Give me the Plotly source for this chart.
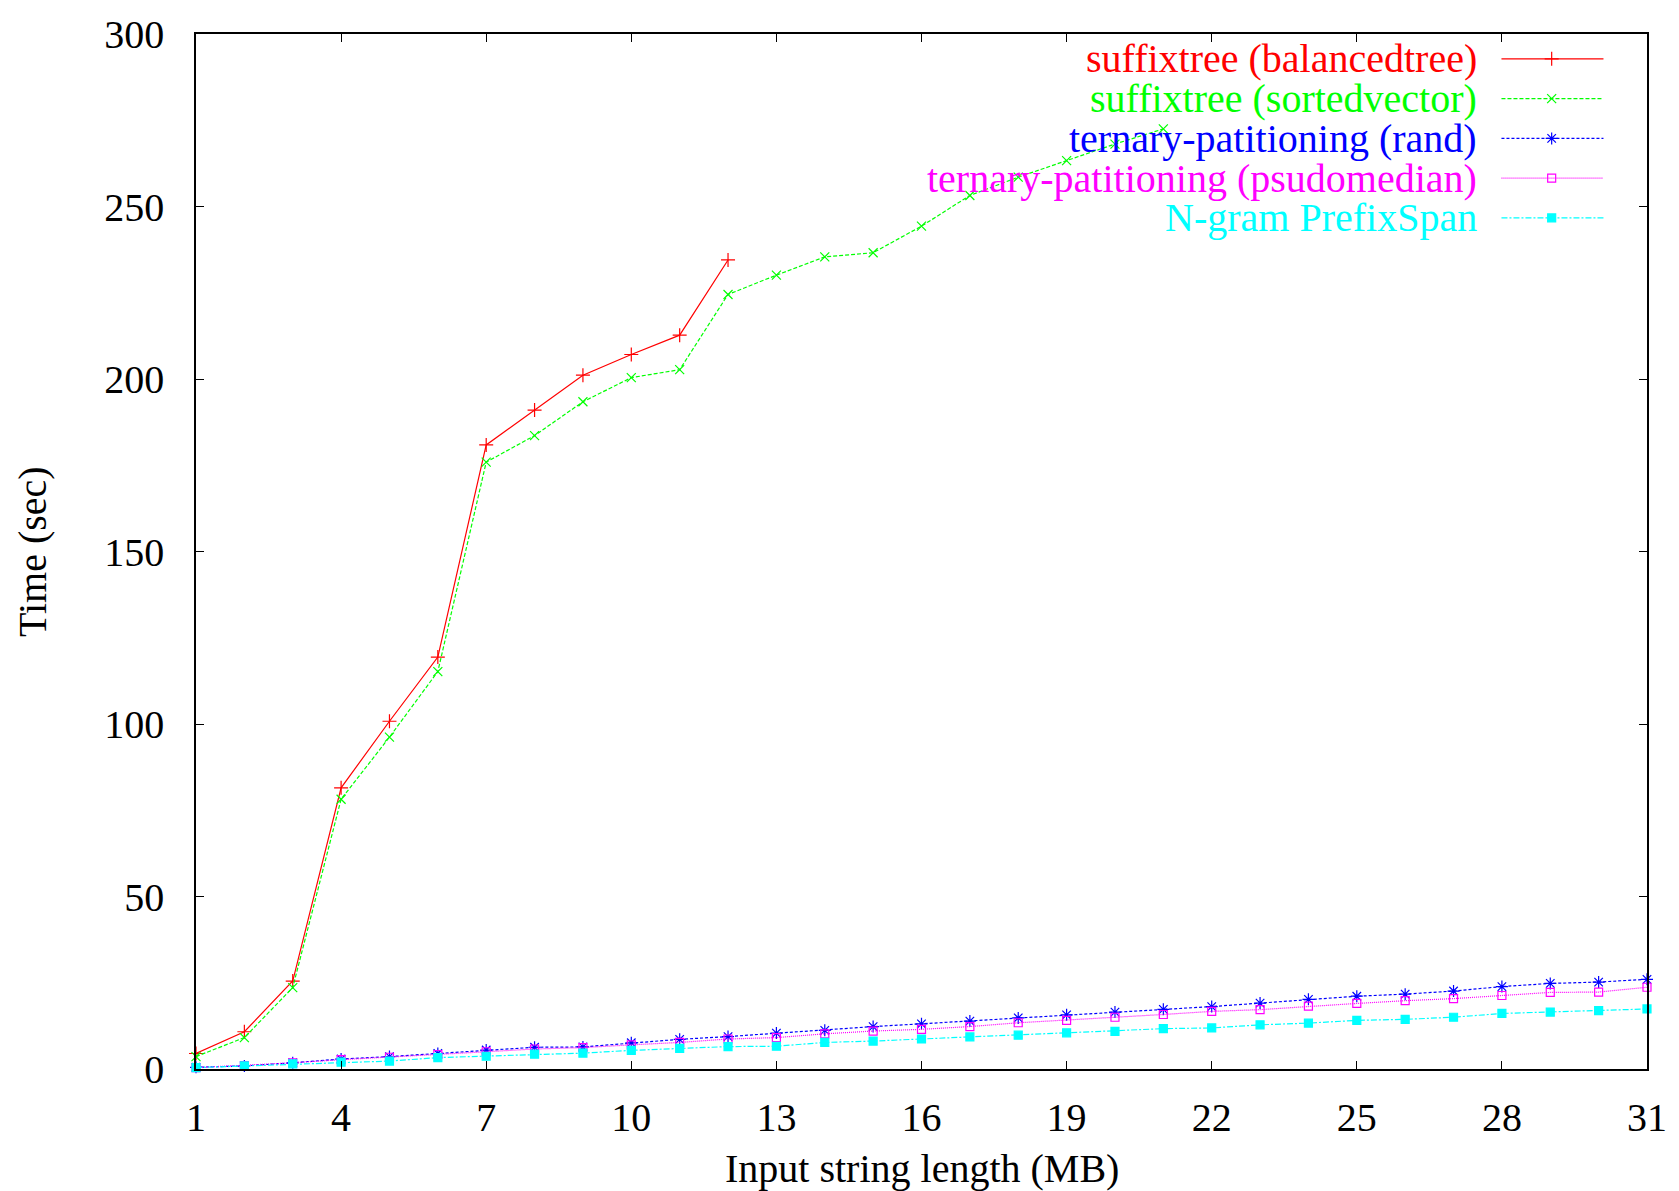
import plotly.graph_objects as go

x_mb = list(range(1, 32))
names = ["suffixtree (balancedtree)", "suffixtree (sortedvector)",
         "ternary-patitioning (rand)", "ternary-patitioning (psudomedian)",
         "N-gram PrefixSpan"]
balancedtree = [4.5, 10.8, 25.5, 81.5, 100.8, 119.4, 180.9, 191.0, 201.1, 207.1, 212.7, 234.5]
sortedvector = [3.6, 9.1, 23.6, 78.2, 96.2, 115.2, 175.9, 183.6, 193.4, 200.4, 202.7, 224.5,
                230.1, 235.4, 236.6, 244.3, 253.2, 258.5, 263.3, 268.1, 272.5]
tp_rand = [0.5, 0.9, 1.8, 2.9, 3.6, 4.5, 5.5, 6.3, 6.4, 7.6, 8.6, 9.4, 10.4, 11.2, 12.3, 13.1,
           13.9, 14.8, 15.7, 16.5, 17.3, 18.1, 19.1, 20.2, 21.1, 21.7, 22.6, 23.9, 24.8, 25.2, 26.0]
tp_psudomedian = [0.4, 1.0, 1.8, 2.7, 3.4, 4.2, 5.0, 5.8, 6.2, 7.0, 7.7, 8.7, 9.1, 10.2, 11.0, 11.5,
                  12.3, 13.4, 14.1, 15.0, 15.8, 16.7, 17.2, 18.2, 19.0, 19.8, 20.4, 21.3, 22.2, 22.3, 23.7]
ngram = [0.4, 0.9, 1.5, 2.0, 2.3, 3.3, 3.7, 4.3, 4.6, 5.4, 6.0, 6.5, 6.6, 7.7, 8.1, 8.7, 9.3, 9.8,
         10.5, 10.9, 11.7, 11.9, 12.8, 13.3, 14.1, 14.4, 15.0, 16.1, 16.5, 16.9, 17.4]
x_ticks = list(range(1, 32, 3))
y_ticks = list(range(0, 301, 50))

series = [balancedtree, sortedvector, tp_rand, tp_psudomedian, ngram]
colors = ["#ff0000", "#00ff00", "#0000ff", "#ff00ff", "#00ffff"]
dashes = ["solid", "4px,2px", "3px,2px", "1px,1px", "6px,2px,2px,2px"]
symbols = ["cross-thin", "x-thin", "asterisk", "square-open", "square"]
msizes = [10, 9, 10, 8, 8]

FONT = "Liberation Serif, Times New Roman, serif"
fig = go.Figure()

for ys, c, d, s, ms in zip(series, colors, dashes, symbols, msizes):
    fig.add_trace(go.Scatter(
        x=x_mb[:len(ys)], y=ys, mode="lines+markers",
        line=dict(color=c, width=1.2, dash=d),
        marker=dict(symbol=s, size=ms, color=c, line=dict(color=c, width=1.2)),
        cliponaxis=False, showlegend=False))

# manual gnuplot-style legend (text left, sample right)
leg_rows = [0.976, 0.9376, 0.8991, 0.8607, 0.8223]
lx0, lxm, lx1, ltext = 0.8997, 0.9343, 0.9700, 0.8840
for name, c, d, s, ms, ry in zip(names, colors, dashes, symbols, msizes, leg_rows):
    fig.add_annotation(x=ltext, y=ry, xref="paper", yref="paper", text=name,
                       showarrow=False, xanchor="right", yanchor="middle",
                       font=dict(family=FONT, size=40, color=c))
    fig.add_trace(go.Scatter(x=[lx0, lx1], y=[ry, ry], xaxis="x2", yaxis="y2",
                             mode="lines", line=dict(color=c, width=1.2, dash=d),
                             showlegend=False, hoverinfo="skip"))
    fig.add_trace(go.Scatter(x=[lxm], y=[ry], xaxis="x2", yaxis="y2", mode="markers",
                             marker=dict(symbol=s, size=ms, color=c, line=dict(color=c, width=1.2)),
                             showlegend=False, hoverinfo="skip", cliponaxis=False))

axis_common = dict(showline=True, linecolor="black", linewidth=1.5, mirror="ticks",
                   ticks="inside", ticklen=8, tickwidth=1.2, tickcolor="black",
                   showgrid=False, zeroline=False, ticklabeloverflow="allow",
                   tickfont=dict(family=FONT, size=40, color="black"))
fig.update_layout(
    width=1679, height=1191,
    margin=dict(l=196, r=27, t=28, b=122),
    paper_bgcolor="white", plot_bgcolor="white",
    xaxis=dict(range=[1, 31], tickvals=x_ticks, ticklabelstandoff=12, **axis_common),
    yaxis=dict(range=[0, 300], tickvals=y_ticks, ticklabelstandoff=22, **axis_common),
    xaxis2=dict(overlaying="x", range=[0, 1], visible=False),
    yaxis2=dict(overlaying="y", range=[0, 1], visible=False),
    showlegend=False,
)
fig.add_annotation(x=-0.1126, y=0.5, xref="paper", yref="paper", text="Time (sec)",
                   textangle=-90, showarrow=False, xanchor="center", yanchor="middle",
                   font=dict(family=FONT, size=40, color="black"))
fig.add_annotation(x=0.5, y=-0.0958, xref="paper", yref="paper", text="Input string length (MB)",
                   showarrow=False, xanchor="center", yanchor="middle",
                   font=dict(family=FONT, size=40, color="black"))

fig.write_html("out.html", config={"displayModeBar": False},
               post_script="document.body.style.margin='0px';document.body.style.overflow='hidden';")
